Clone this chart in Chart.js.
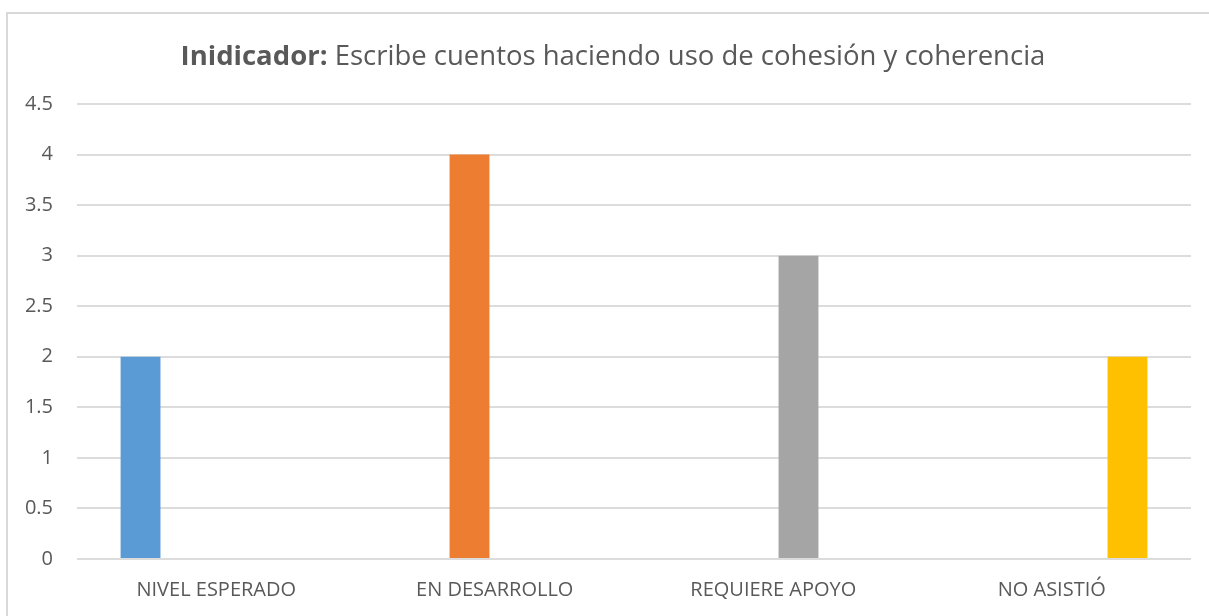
<!DOCTYPE html>
<html>
<head>
<meta charset="utf-8">
<script src="https://cdn.jsdelivr.net/npm/chart.js@4.4.1/dist/chart.umd.min.js"></script>
<style>
  body { margin:0; background:#fff; }
  #frame {
    position:absolute; left:6px; top:12px; width:1203px; height:604px;
    border-left:2px solid #d9d9d9; border-top:2px solid #d9d9d9;
  }
  #wrap { position:absolute; left:0; top:0; width:1201px; height:602px; }
</style>
</head>
<body>
<div id="frame"><div id="wrap"><canvas id="chart"></canvas></div></div>
<script>
const categories = ["NIVEL ESPERADO", "EN DESARROLLO", "REQUIERE APOYO", "NO ASISTIÓ"];
const nivelEsperado = [2, null, null, null];
const enDesarrollo = [null, 4, null, null];
const requiereApoyo = [null, null, 3, null];
const noAsistio = [null, null, null, 2];
const colors = ["#5B9BD5", "#ED7D31", "#A5A5A5", "#FFC000"];
const titleBold = "Inidicador:";
const titleRest = " Escribe cuentos haciendo uso de cohesión y coherencia";

const textColor = "#595959";
const fontFamily = "'Open Sans', 'Noto Sans', sans-serif";

// title has a bold part and a normal part, so draw it by hand
const titlePlugin = {
  id: "mixedTitle",
  afterDraw(chart) {
    const ctx = chart.ctx;
    ctx.save();
    ctx.fillStyle = textColor;
    ctx.textBaseline = "middle";
    ctx.font = "bold 27.5px " + fontFamily;
    const w1 = ctx.measureText(titleBold).width;
    ctx.font = "27.5px " + fontFamily;
    const w2 = ctx.measureText(titleRest).width;
    let x = 605 - (w1 + w2) / 2;
    const y = 43;
    ctx.textAlign = "left";
    ctx.font = "bold 27.5px " + fontFamily;
    ctx.fillText(titleBold, x, y);
    ctx.font = "27.5px " + fontFamily;
    ctx.fillText(titleRest, x + w1, y);
    ctx.restore();
  }
};

const seriesList = [nivelEsperado, enDesarrollo, requiereApoyo, noAsistio];

new Chart(document.getElementById("chart"), {
  type: "bar",
  data: {
    labels: categories,
    datasets: seriesList.map((s, i) => ({
      label: categories[i],
      data: s,
      backgroundColor: colors[i],
      categoryPercentage: 0.725,
      barPercentage: 0.79
    }))
  },
  options: {
    responsive: true,
    maintainAspectRatio: false,
    animation: false,
    layout: { padding: { top: 90, right: 18, left: 0, bottom: 0 } },
    plugins: {
      legend: { display: false },
      title: { display: false },
      tooltip: { enabled: false }
    },
    scales: {
      x: {
        grid: { display: false, drawTicks: false },
        border: { display: false },
        ticks: { color: textColor, font: { family: fontFamily, size: 20 }, padding: 19, maxRotation: 0 },
        afterFit(scale) { scale.height = 57; }
      },
      y: {
        min: 0,
        max: 4.5,
        ticks: {
          stepSize: 0.5,
          color: textColor,
          font: { family: fontFamily, size: 20 },
          padding: 24,
          callback: v => String(v)
        },
        grid: { color: "#dcdcdc", lineWidth: 2, drawTicks: false },
        border: { display: false },
        afterFit(scale) { scale.width = 69; }
      }
    }
  },
  plugins: [titlePlugin]
});
</script>
</body>
</html>
